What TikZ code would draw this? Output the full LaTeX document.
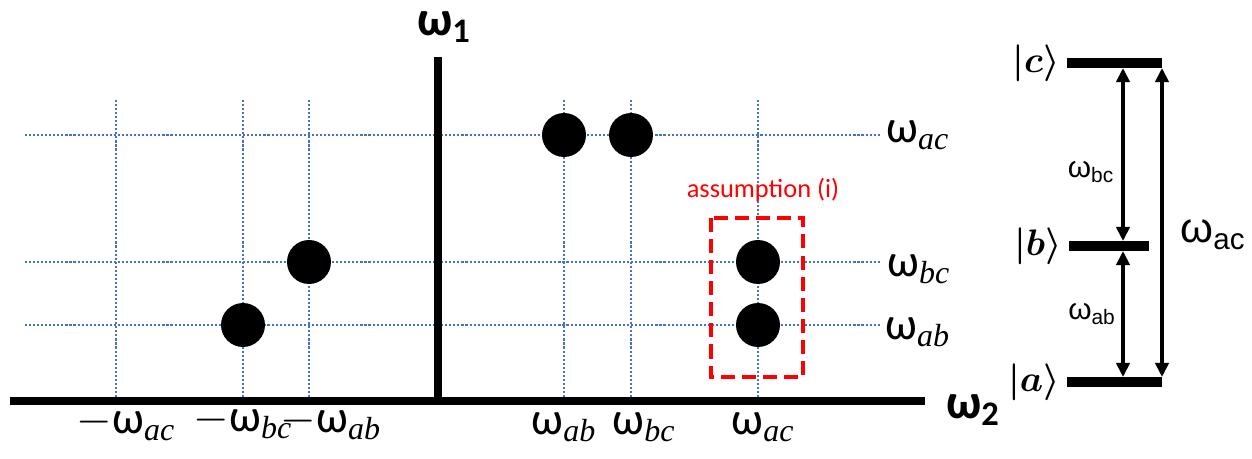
\RequirePackage{fix-cm}
\documentclass[tikz,border=0pt]{standalone}
\usepackage{fontspec}
\setmainfont{Carlito}
\newfontfamily\cambfont{Liberation Serif}
\newfontfamily\arialfont{Liberation Sans}
\usepackage{amsmath}
\usepackage{amssymb}
\usetikzlibrary{arrows.meta,positioning}
\definecolor{gridblue}{RGB}{68,114,196}
\definecolor{assumered}{RGB}{255,0,0}
\newcommand{\wsub}[1]{ω\textsubscript{\cambfont\itshape #1}}

\begin{document}
\begin{tikzpicture}[
    x=0.02cm, y=-0.02cm,
    axis/.style={line width=4pt},
    gridline/.style={gridblue, line width=1.2pt, dash pattern=on 1.2pt off 1.1pt},
    peak/.style={circle, fill=black, minimum size=0.88cm, inner sep=0pt},
    freq/.style={font=\fontsize{26}{28}\selectfont, inner sep=0pt, anchor=base},
    axislabel/.style={font=\fontsize{28}{30}\selectfont\bfseries, inner sep=0pt},
    assumebox/.style={draw=assumered, line width=2.3pt, dash pattern=on 8pt off 4pt},
    energylevel/.style={line width=5.5pt},
    ket/.style={font=\fontsize{21}{24}\selectfont\boldmath, inner sep=0pt},
    transition/.style={font=\arialfont\fontsize{17}{19}\selectfont, inner sep=0pt, anchor=base},
    arrow/.style={{Triangle[length=8pt,width=7.5pt]}-{Triangle[length=8pt,width=7.5pt]}, line width=2pt}
]
\useasboundingbox (0,0) rectangle (1252,459);

% Grid
\draw[gridline] (25,135) -- (880,135);
\draw[gridline] (25,262) -- (880,262);
\draw[gridline] (25,325) -- (880,325);
\draw[gridline] (116,100) -- (116,401);
\draw[gridline] (243,100) -- (243,401);
\draw[gridline] (309,100) -- (309,401);
\draw[gridline] (564,100) -- (564,401);
\draw[gridline] (631,100) -- (631,401);
\draw[gridline] (758,100) -- (758,401);

% Axes
\coordinate (xstart) at (10,401);
\coordinate (xend) at (925,401);
\coordinate (ybottom) at (438,401);
\coordinate (ytop) at (438,57);
\draw[axis] (xstart) -- (xend);
\draw[axis] (ybottom) -- (ytop);
\node[axislabel] (w1) at (444,27) {ω\textsubscript{1}};
\node[axislabel] (w2) at (973,410) {ω\textsubscript{2}};

% Peaks
\node[peak] (acab) at (564,135) {};
\node[peak] (acbc) at (631,135) {};
\node[peak] (bcmab) at (309,262) {};
\node[peak] (abmbc) at (243,325) {};
\node[peak] (bcac) at (758,262) {};
\node[peak] (abac) at (758,325) {};

% Assumption
\draw[assumebox] (711,218) rectangle (803,377);
\node[font=\fontsize{15}{17}\selectfont, text=assumered] (assume) at (763,190) {assumption (i)};

% Frequency labels
\node[freq, anchor=base west] (rowac) at (886,143) {\wsub{ac}};
\node[freq, anchor=base west] (rowbc) at (887,277) {\wsub{bc}};
\node[freq, anchor=base west] (rowab) at (885,340) {\wsub{ab}};
\node[freq] (colmac) at (126,434) {$-$\wsub{ac}};
\node[freq] (colmbc) at (243,432) {$-$\wsub{bc}};
\node[freq] (colmab) at (331,433) {$-$\wsub{ab}};
\node[freq] (colab) at (564,435) {\wsub{ab}};
\node[freq] (colbc) at (644,435) {\wsub{bc}};
\node[freq] (colac) at (763,435) {\wsub{ac}};

% Energy levels
\coordinate (cleft) at (1067,63);
\coordinate (cright) at (1162,63);
\coordinate (bleft) at (1069,246);
\coordinate (bright) at (1149,246);
\coordinate (aleft) at (1067,382);
\coordinate (aright) at (1162,382);
\draw[energylevel] (cleft) -- (cright);
\draw[energylevel] (bleft) -- (bright);
\draw[energylevel] (aleft) -- (aright);
\node[ket, left=0.14cm of cleft] (ketc) {$|\boldsymbol{c}\rangle$};
\node[ket, left=0.14cm of bleft] (ketb) {$|\boldsymbol{b}\rangle$};
\node[ket, left=0.14cm of aleft] (keta) {$|\boldsymbol{a}\rangle$};

% Transitions
\coordinate (ctop) at (1123,68);
\coordinate (bup) at (1123,241);
\coordinate (bdown) at (1123,251);
\coordinate (abot) at (1123,377);
\coordinate (couter) at (1162,68);
\coordinate (aouter) at (1162,377);
\draw[arrow] (ctop) -- (bup);
\draw[arrow] (bdown) -- (abot);
\draw[arrow] (couter) -- (aouter);
\node[transition] (tbc) at (1091,178) {ω\textsubscript{bc}};
\node[transition] (tab) at (1092,320) {ω\textsubscript{ab}};
\node[transition, font=\arialfont\fontsize{24}{26}\selectfont] (tac) at (1213,243) {ω\textsubscript{ac}};

\end{tikzpicture}
\end{document}
